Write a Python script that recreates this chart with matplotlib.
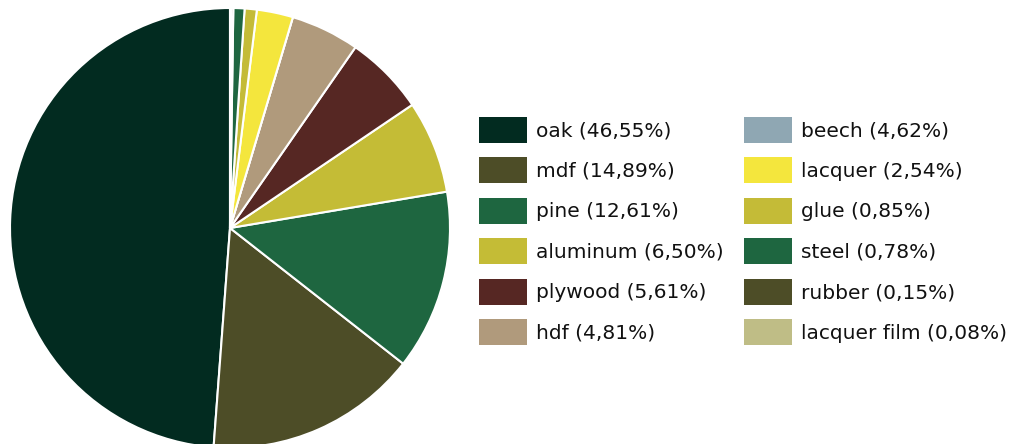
import matplotlib.pyplot as plt
from matplotlib.patches import Rectangle

# material shares (percent) as listed in the legend
materials = ['oak', 'mdf', 'pine', 'aluminum', 'plywood', 'hdf',
             'beech', 'lacquer', 'glue', 'steel', 'rubber', 'lacquer film']
shares = [46.55, 14.89, 12.61, 6.50, 5.61, 4.81,
          4.62, 2.54, 0.85, 0.78, 0.15, 0.08]
# beech is listed but has no wedge in the pie
in_pie = [True, True, True, True, True, True,
          False, True, True, True, True, True]
colors = ['#022b20', '#4d4d27', '#1e6640', '#c4bc36', '#562723', '#b09a7c',
          '#8fa7b3', '#f4e63d', '#c4bb37', '#1e6640', '#4d4d27', '#bfbd86']

plt.rcParams['font.family'] = ['DejaVu Sans']

W, H = 1016, 444
fig = plt.figure(figsize=(W / 100, H / 100), dpi=100)

# pie: centre ~ (230, 228) px, radius ~ 220 px
cx, cy, r = 230, 228, 220
ax = fig.add_axes([(cx - r) / W, (H - cy - r) / H, 2 * r / W, 2 * r / H])
vals = [s if p else 0 for s, p in zip(shares, in_pie)]
ax.pie(vals, colors=colors, startangle=90, counterclock=True,
       wedgeprops=dict(edgecolor='white', linewidth=1.5))
ax.set_xlim(-1, 1)
ax.set_ylim(-1, 1)
ax.set_aspect('equal')
ax.axis('off')

# legend in pixel coordinates
lax = fig.add_axes([0, 0, 1, 1])
lax.set_xlim(0, W)
lax.set_ylim(H, 0)
lax.axis('off')

col_x = [479, 744]
row_y0 = 117
row_dy = 40.4
for i, (name, share, c) in enumerate(zip(materials, shares, colors)):
    col = i // 6
    row = i % 6
    x = col_x[col]
    y = row_y0 + row * row_dy
    lax.add_patch(Rectangle((x, y), 48, 26, facecolor=c, edgecolor='none'))
    label = '%s (%s%%)' % (name, ('%.2f' % share).replace('.', ','))
    lax.text(x + 57, y + 14, label, fontsize=14.5, color='#111111',
             va='center', ha='left')

fig.savefig('out.png', dpi=100, facecolor='white')
